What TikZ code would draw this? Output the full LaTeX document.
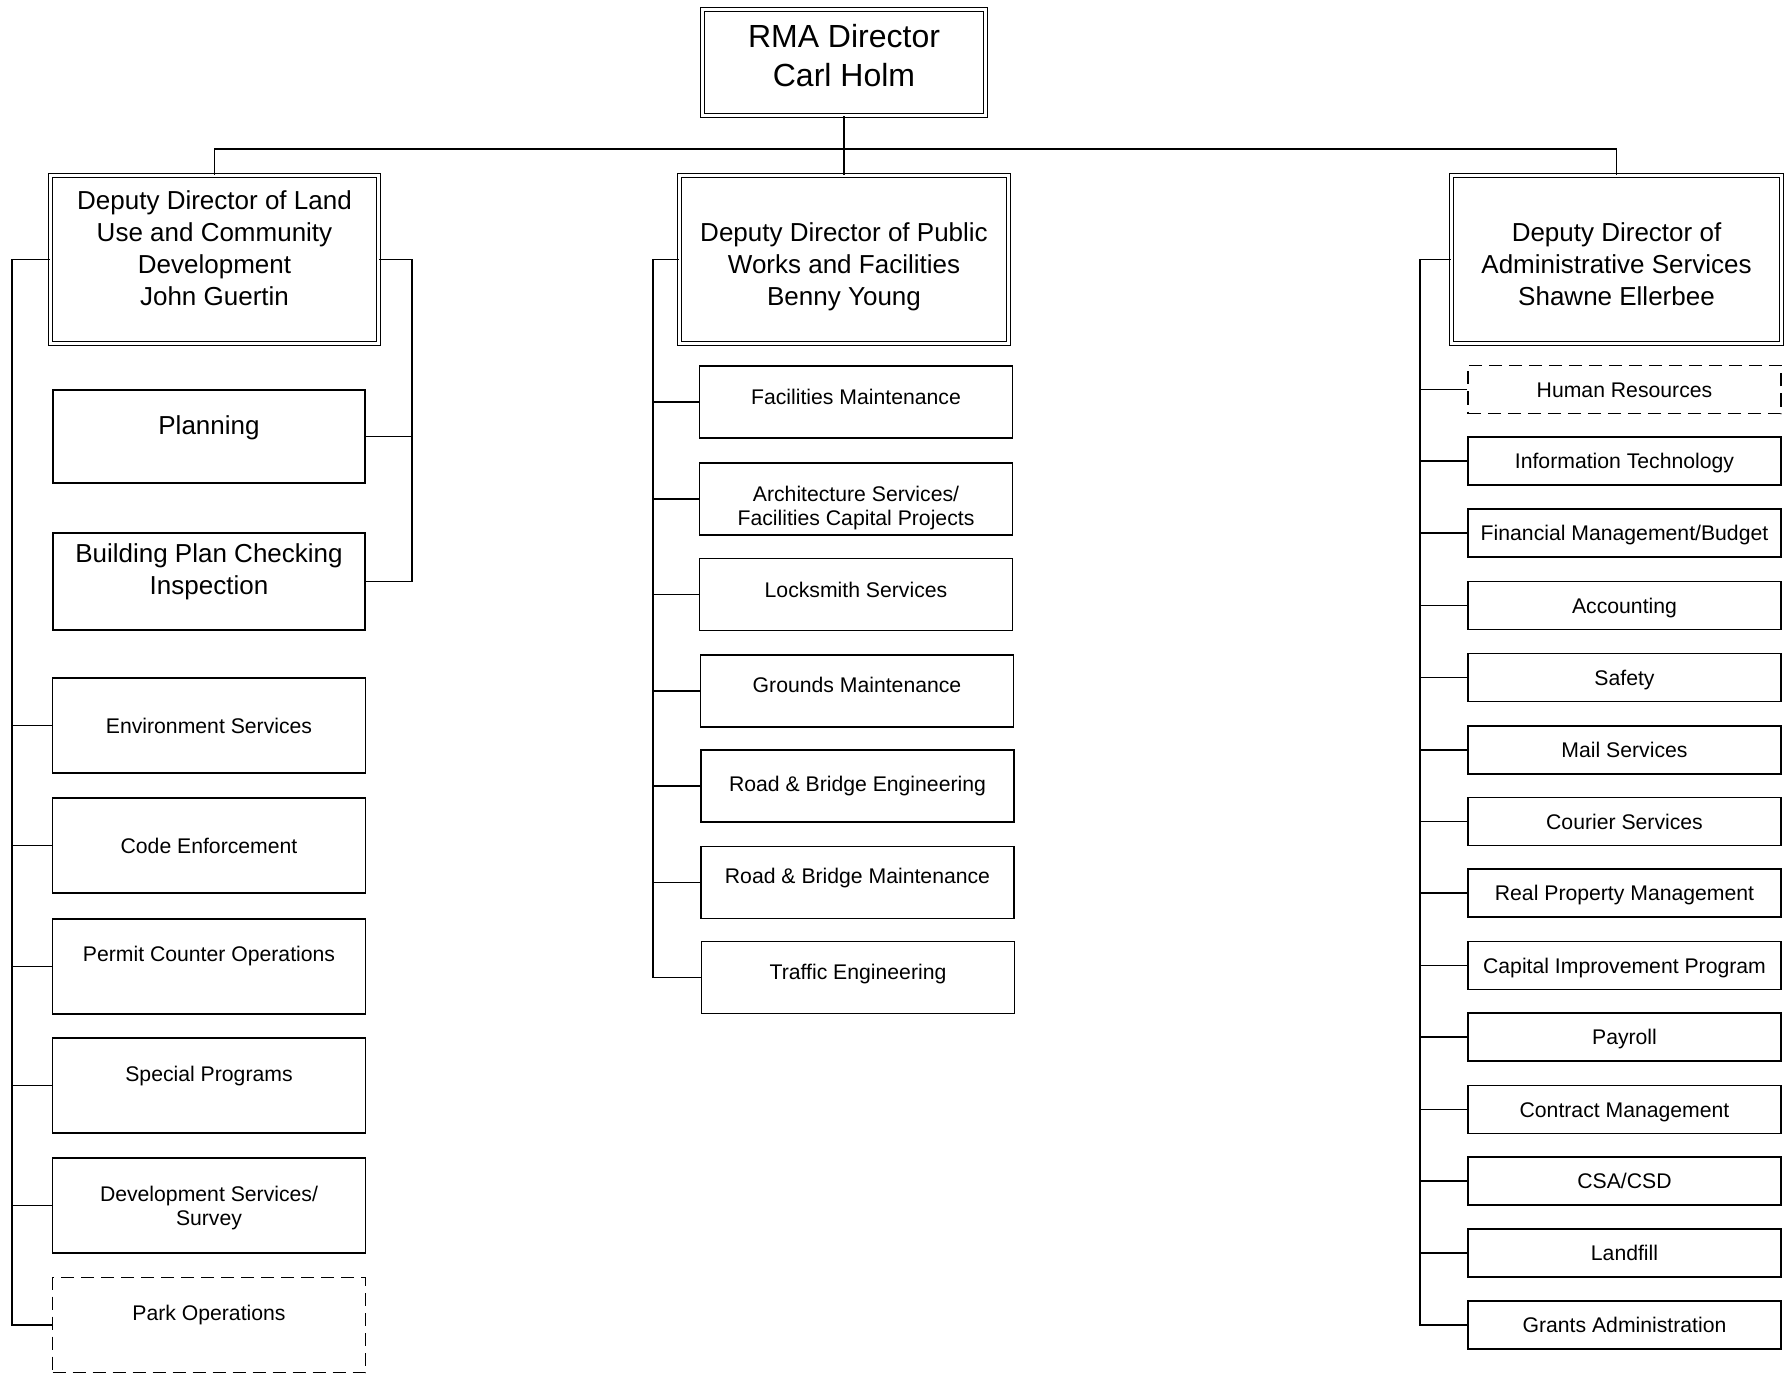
\documentclass[tikz,border=0pt]{standalone}
\usepackage{fontspec}
\setmainfont{Liberation Sans}
\usepackage{tikz}

\begin{document}
\begin{tikzpicture}[x=0.5pt,y=-0.5pt,
		director/.style={draw,double,double distance=1.4pt,line width=0.7pt,align=center,font=\fontsize{16}{19.5}\selectfont,text height=31pt,text depth=6.5pt,minimum width=141.5pt,minimum height=53pt},
		deputy/.style={draw,double,double distance=1.4pt,line width=0.7pt,align=center,font=\fontsize{13}{16}\selectfont,minimum height=84pt},
		unitbig/.style={draw,line width=0.8pt,align=center,font=\fontsize{13}{16}\selectfont,text height=9.3pt,minimum width=156pt},
		unit/.style={draw,line width=0.8pt,align=center,font=\fontsize{10.6}{12}\selectfont,text height=7.6pt,text depth=0pt,minimum width=156.5pt},
		vacant/.style={dash pattern=on 6.5pt off 3.5pt},
		link/.style={line width=0.8pt}]
	\useasboundingbox (0,0) rectangle (1787,1374);

	\node[director] (rma) at (844,62.5) {RMA Director\\Carl Holm};

	\node[deputy,minimum width=164pt,text height=57.3pt,text depth=11.5pt] (dep1) at (214.5,259.5) {Deputy Director of Land\\Use and Community\\Development\\John Guertin};
	\node[deputy,minimum width=164.5pt,text height=46.3pt,text depth=0pt] (dep2) at (844,259.5) {Deputy Director of Public\\Works and Facilities\\Benny Young};
	\node[deputy,minimum width=165pt,text height=46.3pt,text depth=0pt] (dep3) at (1616.5,259.5) {Deputy Director of\\Administrative Services\\Shawne Ellerbee};

	\node[unitbig,minimum height=46.5pt,text depth=11.5pt] (plan) at (209,436.5) {Planning};
	\node[unitbig,minimum height=48.5pt,text height=25.3pt,text depth=12.5pt] (bldg) at (209,581.5) {Building Plan Checking\\Inspection};
	\node[unit,minimum height=47.5pt] (env) at (209,725.5) {Environment Services};
	\node[unit,minimum height=47.5pt] (code) at (209,845.5) {Code Enforcement};
	\node[unit,minimum height=47.5pt,text depth=12.5pt] (permit) at (209,966.5) {Permit Counter Operations};
	\node[unit,minimum height=47.5pt,text depth=11.5pt] (special) at (209,1085.5) {Special Programs};
	\node[unit,minimum height=47.5pt,text height=19.6pt] (dev) at (209,1205.5) {Development Services/\\Survey};
	\node[unit,vacant,minimum height=47.5pt,text depth=12pt] (park) at (209,1325) {Park Operations};

	\node[unit,minimum height=36pt,text depth=5pt] (fac) at (856,402) {Facilities Maintenance};
	\node[unit,minimum height=36pt,text height=26.6pt] (arch) at (856,499) {Architecture Services/\\Facilities Capital Projects};
	\node[unit,minimum height=36pt,text depth=5pt] (lock) at (856,594.5) {Locksmith Services};
	\node[unit,minimum height=36pt,text depth=6pt] (grnd) at (857,691) {Grounds Maintenance};
	\node[unit,minimum height=36pt,text depth=2pt] (rbe) at (857.5,786) {Road \& Bridge Engineering};
	\node[unit,minimum height=36pt,text depth=6.5pt] (rbm) at (857.5,882.5) {Road \& Bridge Maintenance};
	\node[unit,minimum height=36pt,text depth=5.5pt] (traf) at (858,977.5) {Traffic Engineering};

	\node[unit,vacant,minimum height=24pt] (hr) at (1624.5,389.5) {Human Resources};
	\node[unit,minimum height=24pt] (it) at (1624.5,461) {Information Technology};
	\node[unit,minimum height=24pt] (fin) at (1624.5,533) {Financial Management/Budget};
	\node[unit,minimum height=24pt] (acc) at (1624.5,605.5) {Accounting};
	\node[unit,minimum height=24pt] (safe) at (1624.5,677.5) {Safety};
	\node[unit,minimum height=24pt] (mail) at (1624.5,750) {Mail Services};
	\node[unit,minimum height=24pt] (cour) at (1624.5,821.5) {Courier Services};
	\node[unit,minimum height=24pt] (realp) at (1624.5,893) {Real Property Management};
	\node[unit,minimum height=24pt] (cip) at (1624.5,965.5) {Capital Improvement Program};
	\node[unit,minimum height=24pt] (pay) at (1624.5,1037) {Payroll};
	\node[unit,minimum height=24pt] (contr) at (1624.5,1109.5) {Contract Management};
	\node[unit,minimum height=24pt] (csa) at (1624.5,1181) {CSA/CSD};
	\node[unit,minimum height=24pt] (land) at (1624.5,1253) {Landfill};
	\node[unit,minimum height=24pt] (grants) at (1624.5,1325) {Grants Administration};

	\coordinate (bus) at (844,149);
	\coordinate (lspine) at (12,0);
	\coordinate (lrspine) at (412,0);
	\coordinate (mspine) at (653,0);
	\coordinate (rspine) at (1420,0);

	\draw[link] (rma.south) -- (bus);
	\draw[link] (dep1.north) |- (bus) -| (dep3.north);
	\draw[link] (bus) -- (dep2.north);

	\draw[link] (dep1.west) -- (dep1.west -| lspine) |- (park.west);
	\draw[link] (env.west) -- (env.west -| lspine);
	\draw[link] (code.west) -- (code.west -| lspine);
	\draw[link] (permit.west) -- (permit.west -| lspine);
	\draw[link] (special.west) -- (special.west -| lspine);
	\draw[link] (dev.west) -- (dev.west -| lspine);
	\draw[link] (dep1.east) -- (dep1.east -| lrspine) |- (bldg.east);
	\draw[link] (plan.east) -- (plan.east -| lrspine);

	\draw[link] (dep2.west) -- (dep2.west -| mspine) |- (traf.west);
	\draw[link] (fac.west) -- (fac.west -| mspine);
	\draw[link] (arch.west) -- (arch.west -| mspine);
	\draw[link] (lock.west) -- (lock.west -| mspine);
	\draw[link] (grnd.west) -- (grnd.west -| mspine);
	\draw[link] (rbe.west) -- (rbe.west -| mspine);
	\draw[link] (rbm.west) -- (rbm.west -| mspine);

	\draw[link] (dep3.west) -- (dep3.west -| rspine) |- (grants.west);
	\draw[link] (hr.west) -- (hr.west -| rspine);
	\draw[link] (it.west) -- (it.west -| rspine);
	\draw[link] (fin.west) -- (fin.west -| rspine);
	\draw[link] (acc.west) -- (acc.west -| rspine);
	\draw[link] (safe.west) -- (safe.west -| rspine);
	\draw[link] (mail.west) -- (mail.west -| rspine);
	\draw[link] (cour.west) -- (cour.west -| rspine);
	\draw[link] (realp.west) -- (realp.west -| rspine);
	\draw[link] (cip.west) -- (cip.west -| rspine);
	\draw[link] (pay.west) -- (pay.west -| rspine);
	\draw[link] (contr.west) -- (contr.west -| rspine);
	\draw[link] (csa.west) -- (csa.west -| rspine);
	\draw[link] (land.west) -- (land.west -| rspine);
\end{tikzpicture}
\end{document}
